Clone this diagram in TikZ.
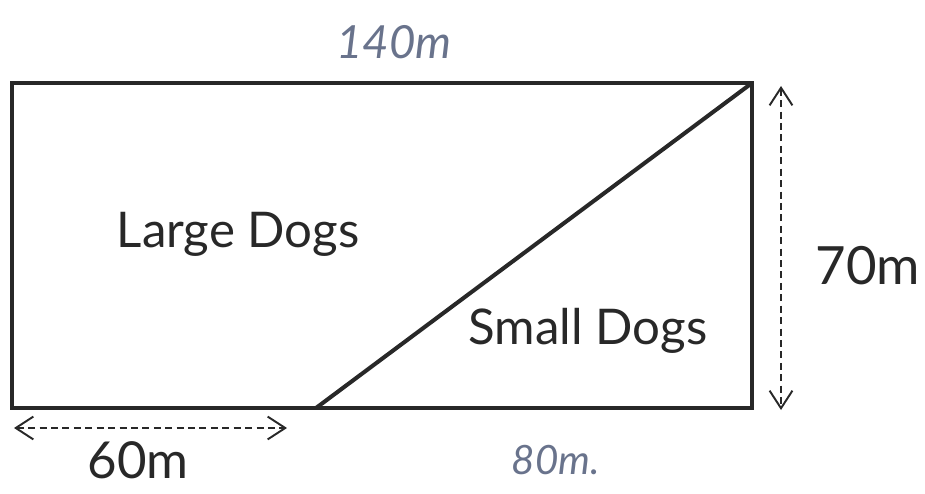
\documentclass[tikz,border=0pt]{standalone}
\usepackage{fontspec}
\setmainfont{Lato}
\usepackage{xcolor}
\usetikzlibrary{arrows.meta}

\definecolor{ink}{RGB}{40,40,40}
\definecolor{pencil}{RGB}{105,115,140}

\begin{document}
\begin{tikzpicture}[x=0.02cm, y=-0.02cm, inner sep=0pt]
    \useasboundingbox (0,0) rectangle (925,493);
    \coordinate (tl) at (12,83);
    \coordinate (tr) at (752,83);
    \coordinate (br) at (752,408);
    \coordinate (bl) at (12,408);
    \coordinate (split) at (316,408);
    \draw[ink, line width=2.3pt, line join=miter] (tl) -- (tr) -- (br) -- (bl) -- cycle;
    \draw[ink, line width=2.3pt] (split) -- (tr);
    \coordinate (ha) at (14,428);
    \coordinate (hb) at (287,428);
    \coordinate (va) at (781,86);
    \coordinate (vb) at (781,410);
    \draw[ink, line width=1.1pt, dash pattern=on 4pt off 2.5pt, {Straight Barb[length=10pt,width=13pt]}-{Straight Barb[length=10pt,width=13pt]}] (ha) -- (hb);
    \draw[ink, line width=1.1pt, dash pattern=on 4pt off 2.5pt, {Straight Barb[length=10pt,width=13pt]}-{Straight Barb[length=10pt,width=13pt]}] (va) -- (vb);
    \node[ink, font=\fontsize{28}{32}\selectfont] (large) at (238,234) {Large Dogs};
    \node[ink, font=\fontsize{28}{32}\selectfont] (small) at (588,331) {Small Dogs};
    \node[ink, font=\fontsize{30}{34}\selectfont] (seventy) at (868,266) {70m};
    \node[ink, font=\fontsize{29}{33}\selectfont, anchor=base] (sixty) at (138,478) {60m};
    \node[pencil, font=\fontsize{26}{30}\selectfont\itshape] (top) at (394,42) {140m};
    \node[pencil, font=\fontsize{23}{27}\selectfont\itshape] (bottom) at (556,460) {80m.};
\end{tikzpicture}
\end{document}
